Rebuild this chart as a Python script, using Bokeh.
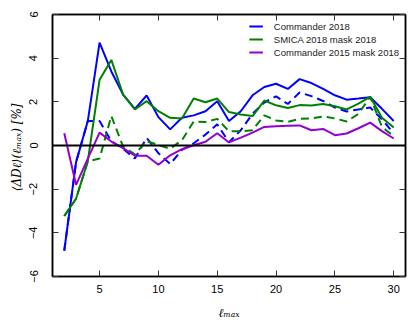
from bokeh.plotting import figure
from bokeh.models import (Range1d, Span, Legend, LegendItem, LinearAxis,
                          FixedTicker, CustomJSTickFormatter)
from bokeh.embed import file_html
from bokeh.resources import INLINE

ell = list(range(2, 31))

commander_2018 = [-4.82, -0.77, 1.12, 4.71, 3.39, 2.33, 1.68, 2.29, 1.30, 0.74,
                  1.27, 1.38, 1.57, 2.03, 1.12, 1.57, 2.30, 2.68, 2.83, 2.59,
                  3.04, 2.86, 2.59, 2.30, 2.10, 2.15, 2.21, 1.68, 1.12]
smica_2018_mask_2018 = [-3.23, -2.44, -0.72, 3.01, 3.92, 2.33, 1.65, 2.03, 1.57, 1.27,
                        1.24, 2.15, 1.98, 2.15, 1.53, 1.42, 1.35, 2.06, 1.84, 1.72,
                        1.85, 1.83, 1.90, 1.80, 1.65, 1.92, 2.23, 1.27, 0.82]
commander_2015_mask_2018 = [0.56, -1.80, -0.60, 0.59, 0.18, -0.12, -0.47, -0.47, -0.88, -0.45,
                            -0.17, 0.01, 0.17, 0.56, 0.14, 0.36, 0.59, 0.85, 0.88, 0.91,
                            0.92, 0.70, 0.76, 0.47, 0.55, 0.79, 1.05, 0.66, 0.32]
commander_2018_dashed = [-4.82, -0.77, 1.12, 1.12, 0.20, -0.15, -0.60, 0.35, -0.35, -0.85,
                         -0.20, 0.10, 0.50, 0.97, 0.15, 0.70, 1.45, 1.97, 2.25, 1.90,
                         2.43, 2.26, 2.04, 1.74, 1.56, 1.65, 1.74, 1.20, 0.55]
smica_2018_dashed = [-3.23, -2.44, -0.72, -0.60, 1.35, -0.05, -0.40, 0.20, 0.02, -0.15,
                     0.24, 1.10, 1.08, 1.22, 0.65, 0.65, 0.70, 1.38, 1.15, 1.08,
                     1.22, 1.24, 1.33, 1.24, 1.10, 1.45, 2.23, 0.85, 0.42]

labels = ["Commander 2018", "SMICA 2018 mask 2018", "Commander 2015 mask 2018"]
colors = ["#0000ff", "#008000", "#9400d3"]

x_ticks = [5, 10, 15, 20, 25, 30]
y_ticks = [-6, -4, -2, 0, 2, 4, 6]

p = figure(width=408, height=322, output_backend="svg", toolbar_location=None,
           x_range=Range1d(1, 31), y_range=Range1d(-6, 6),
           min_border_left=52, min_border_right=3, min_border_top=14, min_border_bottom=44)
p.xgrid.visible = False
p.ygrid.visible = False
p.outline_line_color = "black"
p.outline_line_width = 1.5
p.background_fill_color = "white"
p.border_fill_color = "white"

bottom = p.below[0]
left = p.left[0]

fmt = CustomJSTickFormatter(code="return tick < 0 ? '\\u2212' + Math.abs(tick) : '' + tick;")
blank = CustomJSTickFormatter(code="return '';")

bottom.ticker = FixedTicker(ticks=x_ticks)
left.ticker = FixedTicker(ticks=y_ticks)
left.formatter = fmt
left.major_label_orientation = "vertical"

# extra top and right axes (ticks only)
top = LinearAxis(ticker=FixedTicker(ticks=x_ticks), formatter=blank)
right = LinearAxis(ticker=FixedTicker(ticks=y_ticks), formatter=blank)
p.add_layout(top, "above")
p.add_layout(right, "right")

for ax in [bottom, left, top, right]:
    ax.axis_line_color = "black"
    ax.axis_line_width = 1.5
    ax.major_tick_in = 6
    ax.major_tick_out = 0
    ax.major_tick_line_color = "#333333"
    ax.major_tick_line_width = 1
    ax.minor_tick_line_color = None
    ax.major_label_text_font = "Liberation Sans"
    ax.major_label_text_font_size = "11px"
    ax.major_label_text_color = "black"
    ax.major_label_standoff = 8

left.major_label_standoff = 15
for ax in [top, right]:
    ax.major_label_standoff = 0

bottom.axis_label = "ℓₘₐₓ"
left.axis_label = "⟨ΔDℓ⟩(ℓₘₐₓ)  [%]"
for ax in [bottom, left]:
    ax.axis_label_text_font = "DejaVu Serif"
    ax.axis_label_text_font_style = "italic"
    ax.axis_label_text_font_size = "12px"
    ax.axis_label_text_color = "black"
bottom.axis_label_standoff = 10
left.axis_label_standoff = 3

p.add_layout(Span(location=0, dimension="width", line_color="black", line_width=2))

dash = "8 5"
p.line(ell, commander_2018_dashed, line_color=colors[0], line_width=2, line_dash=dash)
p.line(ell, smica_2018_dashed, line_color=colors[1], line_width=2, line_dash=dash)

r1 = p.line(ell, commander_2018, line_color=colors[0], line_width=2)
r2 = p.line(ell, smica_2018_mask_2018, line_color=colors[1], line_width=2)
r3 = p.line(ell, commander_2015_mask_2018, line_color=colors[2], line_width=2)

legend = Legend(items=[LegendItem(label=labels[0], renderers=[r1]),
                       LegendItem(label=labels[1], renderers=[r2]),
                       LegendItem(label=labels[2], renderers=[r3])],
                location="top_right")
legend.border_line_alpha = 0
legend.background_fill_alpha = 0
legend.margin = 1
legend.padding = 5
legend.spacing = 1
legend.glyph_width = 14
legend.glyph_height = 12
legend.label_height = 12
legend.label_standoff = 11
legend.label_text_font = "Liberation Sans"
legend.label_text_font_size = "9.5px"
legend.label_text_color = "#222222"
p.add_layout(legend)

open("out.html", "w").write(file_html(p, INLINE))
